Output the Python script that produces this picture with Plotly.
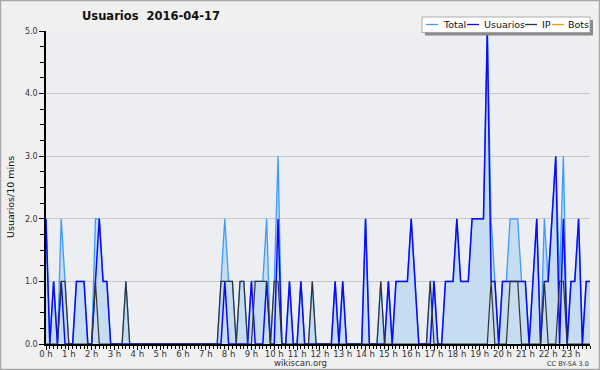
import plotly.graph_objects as go

# ---- data: one value per 10-minute slot (144 slots) ----
usuarios = [
    2, 0, 1, 0, 1, 0, 0, 0, 1, 1, 1, 0,
    0, 1, 2, 1, 1, 0, 0, 0, 0, 0, 0, 0,
    0, 0, 0, 0, 0, 0, 0, 0, 0, 0, 0, 0,
    0, 0, 0, 0, 0, 0, 0, 0, 0, 0, 0, 1,
    0, 0, 0, 0, 0, 0, 1, 0, 0, 0, 1, 0,
    0, 2, 0, 0, 1, 0, 0, 1, 0, 0, 0, 0,
    0, 0, 0, 0, 1, 0, 1, 0, 0, 0, 0, 0,
    2, 0, 0, 0, 0, 0, 1, 0, 1, 1, 1, 1,
    2, 1, 0, 0, 0, 0, 1, 0, 0, 1, 1, 1,
    2, 1, 1, 1, 2, 2, 2, 2, 5, 1, 1, 0,
    1, 1, 1, 1, 1, 1, 1, 0, 1, 2, 0, 1,
    1, 2, 3, 0, 2, 0, 1, 1, 2, 0, 1, 1,
]
ip = [
    0, 0, 0, 0, 1, 1, 0, 0, 0, 0, 0, 0,
    0, 1, 0, 0, 0, 0, 0, 0, 0, 1, 0, 0,
    0, 0, 0, 0, 0, 0, 0, 0, 0, 0, 0, 0,
    0, 0, 0, 0, 0, 0, 0, 0, 0, 0, 1, 1,
    1, 1, 0, 1, 1, 0, 0, 1, 1, 1, 1, 0,
    1, 1, 0, 0, 0, 0, 0, 0, 0, 0, 1, 0,
    0, 0, 0, 0, 0, 0, 0, 0, 0, 0, 0, 0,
    0, 0, 0, 0, 1, 0, 0, 0, 0, 0, 0, 0,
    0, 0, 0, 0, 0, 1, 0, 0, 0, 0, 0, 0,
    0, 0, 0, 0, 0, 0, 0, 0, 0, 1, 0, 0,
    0, 0, 1, 1, 1, 0, 0, 0, 0, 0, 0, 1,
    0, 0, 0, 1, 1, 0, 0, 0, 0, 0, 0, 0,
]
total = [
    2, 0, 1, 0, 2, 1, 0, 0, 1, 1, 1, 0,
    0, 2, 2, 1, 1, 0, 0, 0, 0, 1, 0, 0,
    0, 0, 0, 0, 0, 0, 0, 0, 0, 0, 0, 0,
    0, 0, 0, 0, 0, 0, 0, 0, 0, 0, 1, 2,
    1, 1, 0, 1, 1, 0, 1, 1, 1, 1, 2, 0,
    1, 3, 0, 0, 1, 0, 0, 1, 0, 0, 1, 0,
    0, 0, 0, 0, 1, 0, 1, 0, 0, 0, 0, 0,
    2, 0, 0, 0, 1, 0, 1, 0, 1, 1, 1, 1,
    2, 1, 0, 0, 0, 1, 1, 0, 0, 1, 1, 1,
    2, 1, 1, 1, 2, 2, 2, 2, 5, 2, 1, 0,
    1, 1, 2, 2, 2, 1, 1, 0, 1, 2, 0, 2,
    1, 2, 3, 1, 3, 0, 1, 1, 2, 0, 1, 1,
]
bots = [0] * 144
slot_hours = [i / 6 for i in range(144)]

hour_ticks = list(range(24))
hour_labels = [f"{h} h" for h in hour_ticks]
y_ticks = [0, 1, 2, 3, 4, 5]
y_labels = ["0.0", "1.0", "2.0", "3.0", "4.0", "5.0"]

# ---- layout geometry helpers (pixels -> paper) ----
W, H = 600, 370
ML, MR, MT, MB = 46, 10, 31, 26
PW, PH = W - ML - MR, H - MT - MB


def px(x):
    return (x - ML) / PW


def py(y):
    return (H - MB - y) / PH


C_TOTAL = "#3d9bff"
C_USU = "#0a0aff"
C_IP = "#333333"
C_BOTS = "#ff9900"
FONT = "DejaVu Sans"

fig = go.Figure()
fig.add_trace(go.Scatter(x=slot_hours, y=bots, name="Bots", mode="lines",
                         line=dict(color=C_BOTS, width=1), showlegend=False))
fig.add_trace(go.Scatter(x=slot_hours, y=total, name="Total", mode="lines",
                         line=dict(color=C_TOTAL, width=1.3),
                         fill="tozeroy", fillcolor="#c6dcf0", showlegend=False))
fig.add_trace(go.Scatter(x=slot_hours, y=usuarios, name="Usuarios", mode="lines",
                         line=dict(color=C_USU, width=1.5), showlegend=False))
fig.add_trace(go.Scatter(x=slot_hours, y=ip, name="IP", mode="lines",
                         line=dict(color=C_IP, width=1.2), showlegend=False))

annotations = [
    dict(text="<b>Usuarios\u00a0\u00a02016-04-17</b>", x=px(151), y=py(16.5),
         xref="paper", yref="paper", xanchor="center", yanchor="middle",
         showarrow=False, font=dict(family=FONT, size=11.5, color="#111")),
    dict(text="Usuarios/10 mins", x=px(10), y=py(197), textangle=-90,
         xref="paper", yref="paper", xanchor="center", yanchor="middle",
         showarrow=False, font=dict(family=FONT, size=9.5, color="#111")),
    dict(text="wikiscan.org", x=px(300), y=py(362.5),
         xref="paper", yref="paper", xanchor="center", yanchor="middle",
         showarrow=False, font=dict(family=FONT, size=8.5, color="#333")),
    dict(text="CC BY-SA 3.0", x=px(591), y=py(364),
         xref="paper", yref="paper", xanchor="right", yanchor="middle",
         showarrow=False, font=dict(family=FONT, size=6.5, color="#333")),
]

shapes = [
    # outer frame
    dict(type="rect", xref="paper", yref="paper", x0=px(0.5), x1=px(599.5),
         y0=py(0.5), y1=py(369.5), line=dict(color="#a8a8a8", width=1.5),
         fillcolor="rgba(0,0,0,0)", layer="below"),
    # legend shadow and box
    dict(type="rect", xref="paper", yref="paper", x0=px(425), x1=px(593),
         y0=py(20), y1=py(35.5), line=dict(width=0), fillcolor="#8a8a8a",
         layer="above"),
    dict(type="rect", xref="paper", yref="paper", x0=px(422), x1=px(590),
         y0=py(17), y1=py(32.5), line=dict(color="#999", width=0.8),
         fillcolor="white", layer="above"),
]

legend_items = [("Total", C_TOTAL, 426, 441), ("Usuarios", C_USU, 467, 482),
                ("IP", C_IP, 525, 540), ("Bots", C_BOTS, 552, 566)]
for name, col, lx, tx in legend_items:
    shapes.append(dict(type="line", xref="paper", yref="paper", x0=px(lx), x1=px(lx + 12),
                       y0=py(24.5), y1=py(24.5), line=dict(color=col, width=1.3),
                       layer="above"))
    annotations.append(dict(text=name, x=px(tx), y=py(24.8), xref="paper", yref="paper",
                            xanchor="left", yanchor="middle", showarrow=False,
                            font=dict(family=FONT, size=9.5, color="#111")))

fig.update_layout(
    width=W, height=H,
    margin=dict(l=ML, r=MR, t=MT, b=MB),
    paper_bgcolor="#f0f0f0",
    plot_bgcolor="#eceef1",
    showlegend=False,
    annotations=annotations,
    shapes=shapes,
    xaxis=dict(range=[0, 143 / 6], tickmode="array", tickvals=hour_ticks,
               ticktext=hour_labels, ticks="outside", ticklen=4, tickwidth=1,
               tickcolor="black", showline=True, linecolor="black", linewidth=1.5,
               showgrid=False, zeroline=False, ticklabelstandoff=-3,
               tickfont=dict(family=FONT, size=8.5, color="#333"),
               minor=dict(tickmode="linear", tick0=0, dtick=1 / 6, ticks="outside",
                          ticklen=3, tickcolor="black", showgrid=False)),
    yaxis=dict(range=[0, 5], tickmode="array", tickvals=y_ticks, ticktext=y_labels,
               ticks="outside", ticklen=5, tickwidth=1, tickcolor="black",
               showline=True, linecolor="black", linewidth=1.5,
               showgrid=True, gridcolor="#c8c8c8", gridwidth=1, zeroline=False,
               tickfont=dict(family=FONT, size=8, color="#333"),
               minor=dict(tickmode="linear", tick0=0, dtick=0.25, ticks="outside",
                          ticklen=4, tickcolor="black", showgrid=False)),
)

fig.write_html("out.html")
